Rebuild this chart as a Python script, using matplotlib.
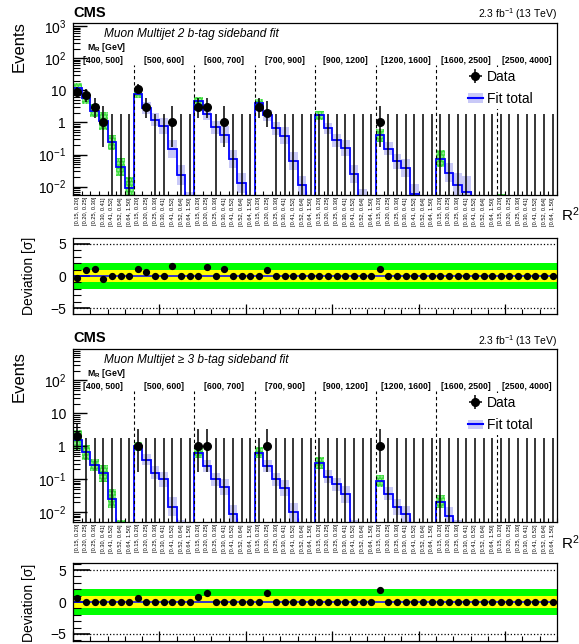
import numpy as np
import matplotlib
matplotlib.use('Agg')
import matplotlib.pyplot as plt
import matplotlib.transforms as mtransforms
from matplotlib.patches import Patch
from matplotlib.lines import Line2D
from matplotlib.ticker import LogLocator, FuncFormatter, NullFormatter, MultipleLocator, FixedLocator

plt.rcParams['font.family'] = ['Liberation Sans', 'DejaVu Sans']
plt.rcParams['mathtext.fontset'] = 'custom'
plt.rcParams['mathtext.rm'] = 'Liberation Sans'
plt.rcParams['mathtext.it'] = 'Liberation Sans:italic'
plt.rcParams['mathtext.bf'] = 'Liberation Sans:bold'
plt.rcParams['hatch.linewidth'] = 1.0

mr_bins = ['[400, 500]', '[500, 600]', '[600, 700]', '[700, 900]',
           '[900, 1200]', '[1200, 1600]', '[1600, 2500]', '[2500, 4000]']
r2_bins = ['[0.15, 0.20]', '[0.20, 0.25]', '[0.25, 0.30]', '[0.30, 0.41]',
           '[0.41, 0.52]', '[0.52, 0.64]', '[0.64, 1.50]']

# observed events per bin (8 MR bins x 7 R2 bins)
data_2b = [9, 7, 3, 1, 0, 0, 0,
           11, 3, 0, 0, 1, 0, 0,
           3, 3, 0, 1, 0, 0, 0,
           3, 2, 0, 0, 0, 0, 0,
           0, 0, 0, 0, 0, 0, 0,
           1, 0, 0, 0, 0, 0, 0,
           0, 0, 0, 0, 0, 0, 0,
           0, 0, 0, 0, 0, 0, 0]
fit_2b = [12, 5.6, 2.3, 1.1, 0.24, 0.042, 0.0093,
          7.5, 2.8, 1.2, 0.77, 0.15, 0.023, 0.003,
          4.5, 1.8, 0.7, 0.42, 0.075, 0.013, 0.002,
          3.9, 1.65, 0.65, 0.39, 0.065, 0.011, 0.002,
          1.65, 0.65, 0.28, 0.16, 0.025, 0.004, 0.001,
          0.4, 0.15, 0.062, 0.037, 0.006, 0.001, 0.0005,
          0.075, 0.027, 0.011, 0.007, 0.002, 0.0005, 0.0002,
          0.003, 0.001, 0.0005, 0.0003, 0.0001, 0.00005, 0.00002]
unc_2b = [0.45, 0.45, 0.6, 0.9, 0.7, 0.9, 1.2,
          0.3, 0.5, 0.6, 0.8, 0.9, 1.0, 1.2,
          0.35, 0.5, 0.6, 0.8, 0.9, 1.0, 1.2,
          0.4, 0.5, 0.6, 0.8, 0.9, 1.0, 1.2,
          0.4, 0.5, 0.6, 0.8, 0.9, 1.1, 1.3,
          0.6, 0.6, 0.7, 0.9, 1.0, 1.2, 1.4,
          0.8, 1.0, 1.5, 2.0, 1.5, 1.5, 1.5,
          1.0, 1.0, 1.0, 1.0, 1.0, 1.0, 1.0]
side_2b = [1, 1, 1, 1, 1, 1, 1,
           1, 0, 0, 0, 0, 0, 0,
           1, 0, 0, 0, 0, 0, 0,
           1, 0, 0, 0, 0, 0, 0,
           1, 0, 0, 0, 0, 0, 0,
           1, 0, 0, 0, 0, 0, 0,
           1, 0, 0, 0, 0, 0, 0,
           1, 0, 0, 0, 0, 0, 0]
dev_2b = [-0.35, 1.0, 1.1, -0.5, 0, 0, 0,
          1.1, 0.6, 0, 0, 1.6, 0, 0,
          0, 1.4, 0, 1.1, 0, 0, 0,
          0, 1.0, 0, 0, 0, 0, 0,
          0, 0, 0, 0, 0, 0, 0,
          1.15, 0, 0, 0, 0, 0, 0,
          0, 0, 0, 0, 0, 0, 0,
          0, 0, 0, 0, 0, 0, 0]

data_3b = [2, 0, 0, 0, 0, 0, 0,
           1, 0, 0, 0, 0, 0, 0,
           1, 1, 0, 0, 0, 0, 0,
           0, 1, 0, 0, 0, 0, 0,
           0, 0, 0, 0, 0, 0, 0,
           1, 0, 0, 0, 0, 0, 0,
           0, 0, 0, 0, 0, 0, 0,
           0, 0, 0, 0, 0, 0, 0]
fit_3b = [1.6, 0.67, 0.27, 0.155, 0.026, 0.003, 0.0005,
          1.0, 0.4, 0.16, 0.1, 0.015, 0.003, 0.0005,
          0.63, 0.25, 0.1, 0.059, 0.009, 0.002, 0.0003,
          0.64, 0.25, 0.1, 0.055, 0.01, 0.002, 0.0003,
          0.31, 0.12, 0.07, 0.035, 0.003, 0.0005, 0.0001,
          0.09, 0.037, 0.0145, 0.0087, 0.002, 0.0004, 0.0001,
          0.021, 0.008, 0.003, 0.002, 0.0005, 0.0001, 0.00005,
          0.001, 0.0005, 0.0002, 0.0001, 0.00005, 0.00002, 0.00001]
unc_3b = [1.0, 0.7, 0.5, 0.8, 0.9, 1.0, 1.0,
          0.4, 0.5, 0.6, 0.7, 0.9, 1.0, 1.0,
          0.45, 0.5, 0.6, 0.7, 0.9, 1.0, 1.0,
          0.45, 0.5, 0.6, 0.7, 0.9, 1.0, 1.0,
          0.5, 0.55, 0.6, 0.8, 0.9, 1.0, 1.0,
          0.5, 0.6, 0.7, 0.8, 0.9, 1.0, 1.0,
          0.6, 0.8, 1.0, 1.0, 1.0, 1.0, 1.0,
          1.0, 1.0, 1.0, 1.0, 1.0, 1.0, 1.0]
side_3b = side_2b
dev_3b = [0.7, 0, 0, 0, 0, 0, 0,
          0.55, 0, 0, 0, 0, 0, 0,
          0.8, 1.35, 0, 0, 0, 0, 0,
          0, 1.35, 0, 0, 0, 0, 0,
          0, 0, 0, 0, 0, 0, 0,
          1.9, 0, 0, 0, 0, 0, 0,
          0, 0, 0, 0, 0, 0, 0,
          0, 0, 0, 0, 0, 0, 0]

# Poisson (Garwood) 68% intervals for n observed events
pois_lo = [0, 0.173, 0.708, 1.367, 2.086, 2.840, 3.620, 4.419, 5.232, 6.057, 6.891, 7.734, 8.585]
pois_hi = [1.841, 3.300, 4.638, 5.918, 7.163, 8.382, 9.584, 10.77, 11.95, 13.11, 14.27, 15.42, 16.56]

BLUE = '#0000ff'
LAV = '#c9c9f7'
GREEN = '#3fdc3f'


def log_fmt(v, pos):
    k = int(round(np.log10(v)))
    if k == 0:
        return '1'
    if k == 1:
        return '10'
    return r'$10^{%d}$' % k


def draw_block(ax, axd, data, fit, unc, side, dev, title, ylim, devlim):
    data = np.array(data)
    fit = np.array(fit)
    unc = np.array(unc)
    side = np.array(side, dtype=bool)
    nb = len(fit)
    edges = np.arange(nb + 1)
    cen = edges[:-1] + 0.5

    lo = fit / (1 + unc)
    hi = fit * (1 + unc)
    ax.bar(cen[~side], (hi - lo)[~side], bottom=lo[~side], width=1, color=LAV, lw=0, zorder=1)
    ax.bar(cen[side], (hi - lo)[side], bottom=lo[side], width=1, facecolor=GREEN,
           edgecolor='#a8f0a8', hatch='.....', lw=0, zorder=1)
    ax.stairs(fit, edges, color=BLUE, lw=1.3, baseline=None, zorder=2)

    for k in range(1, 8):
        ax.axvline(7 * k, ymin=0, ymax=0.755, color='k', ls=(0, (3, 2.5)), lw=0.8, zorder=2.5)

    zero = data == 0
    ax.vlines(cen[zero], ylim[0], pois_hi[0], color='k', lw=1.1, zorder=3)
    nz = ~zero
    d = data[nz]
    elo = d - np.array([pois_lo[n] for n in d])
    ehi = np.array([pois_hi[n] for n in d]) - d
    ax.errorbar(cen[nz], d, yerr=[elo, ehi], fmt='o', color='k', ms=5.5, lw=1.1,
                capsize=0, zorder=4)

    ax.set_yscale('log')
    ax.set_ylim(*ylim)
    ax.set_xlim(0, nb)
    ax.yaxis.set_major_locator(LogLocator(base=10, numticks=12))
    ax.yaxis.set_minor_locator(LogLocator(base=10, subs=np.arange(2, 10), numticks=12))
    ax.yaxis.set_major_formatter(FuncFormatter(log_fmt))
    ax.yaxis.set_minor_formatter(NullFormatter())
    ax.xaxis.set_major_locator(FixedLocator([]))
    ax.xaxis.set_minor_locator(FixedLocator(edges))
    ax.tick_params(axis='y', which='major', direction='in', length=10, width=1, labelsize=10, pad=5)
    ax.tick_params(axis='y', which='minor', direction='in', length=5, width=0.8)
    ax.tick_params(axis='x', which='minor', direction='in', length=3, width=0.8, labelbottom=False)
    for s in ax.spines.values():
        s.set_linewidth(0.9)

    trans = mtransforms.blended_transform_factory(ax.transData, ax.transAxes)
    for k, lab in enumerate(mr_bins):
        ax.text(7 * k + 3.5, 0.782, lab, transform=trans, ha='center', va='center',
                fontsize=6.3, fontweight='bold')
    for i in range(nb):
        ax.text(cen[i], -0.012, r2_bins[i % 7], transform=trans, rotation=90,
                ha='center', va='top', fontsize=4.1)
    ax.text(0.029, 0.858, r'M$_{\mathbf{R}}$ [GeV]', transform=ax.transAxes,
            fontsize=6.3, fontweight='bold', va='center')
    ax.text(0.064, 0.935, title, transform=ax.transAxes, fontsize=8.6,
            style='italic', va='center')

    dat_h = ax.errorbar([], [], xerr=[], yerr=[], fmt='o', color='k', ms=5.5, lw=1.1, capsize=0)
    fit_h = (Patch(facecolor=LAV, edgecolor='none'), Line2D([], [], color=BLUE, lw=1.5))
    leg = ax.legend([dat_h, fit_h], ['Data', 'Fit total'], loc='upper left',
                    bbox_to_anchor=(0.81, 0.745), fontsize=10, frameon=True,
                    handlelength=1.1, handletextpad=0.25, borderpad=0.2,
                    labelspacing=0.6, borderaxespad=0)
    leg.get_frame().set_facecolor('white')
    leg.get_frame().set_edgecolor('none')
    leg.get_frame().set_alpha(1)
    leg.set_zorder(6)

    axd.axhspan(-2, 2, color='#00ff00', lw=0, zorder=1)
    axd.axhspan(-1, 1, color='#ffff00', lw=0, zorder=1)
    axd.axhline(0, color=BLUE, lw=1.1, zorder=2)
    axd.axhline(5, color='k', ls=':', lw=0.9, zorder=2)
    axd.axhline(-5, color='k', ls=':', lw=0.9, zorder=2)
    axd.plot(cen, dev, 'o', color='k', ms=4.2, zorder=3)
    axd.set_xlim(0, nb)
    axd.set_ylim(*devlim)
    axd.set_yticks([-5, 0, 5])
    axd.yaxis.set_minor_locator(MultipleLocator(1))
    axd.xaxis.set_major_locator(MultipleLocator(10))
    axd.xaxis.set_minor_locator(MultipleLocator(2))
    axd.tick_params(axis='y', which='major', direction='in', length=12, width=1.2, labelsize=10, pad=5)
    axd.tick_params(axis='y', which='minor', direction='in', length=6, width=0.8)
    axd.tick_params(axis='x', which='major', direction='in', length=7, width=0.9, labelbottom=False)
    axd.tick_params(axis='x', which='minor', direction='in', length=3.5, width=0.8)
    for s in axd.spines.values():
        s.set_linewidth(0.9)


fig = plt.figure(figsize=(5.79, 6.44), dpi=100)
L, W = 73 / 579, 484 / 579


def box(top_px, bot_px):
    return [L, 1 - bot_px / 644, W, (bot_px - top_px) / 644]


ax1 = fig.add_axes(box(23, 195))
axd1 = fig.add_axes(box(238, 314))
ax2 = fig.add_axes(box(349, 522))
axd2 = fig.add_axes(box(563, 641))

draw_block(ax1, axd1, data_2b, fit_2b, unc_2b, side_2b, dev_2b,
           'Muon Multijet 2 b-tag sideband fit', (0.0055, 1250), (-5.9, 5.9))
draw_block(ax2, axd2, data_3b, fit_3b, unc_3b, side_3b, dev_3b,
           'Muon Multijet \u2265 3 b-tag sideband fit', (0.0051, 900), (-6.1, 6.1))

for cms_y, lumi_y, ev_y, r2_y, dev_y in [(13, 14, 47, 215, 276), (338, 341, 377, 543, 603)]:
    fig.text(73 / 579, 1 - cms_y / 644, 'CMS', fontsize=10.5, fontweight='bold', va='center')
    fig.text(557 / 579, 1 - lumi_y / 644, r'2.3 fb$^{-1}$ (13 TeV)', fontsize=7.5,
             ha='right', va='center')
    fig.text(19 / 579, 1 - ev_y / 644, 'Events', fontsize=12, rotation=90,
             ha='center', va='center')
    fig.text(561 / 579, 1 - r2_y / 644, 'R$^2$', fontsize=11, ha='left', va='center')
    fig.text(29 / 579, 1 - dev_y / 644, 'Deviation [\u03c3]', fontsize=10, rotation=90,
             ha='center', va='center')

fig.savefig('out.png', dpi=100)
plt.close()
